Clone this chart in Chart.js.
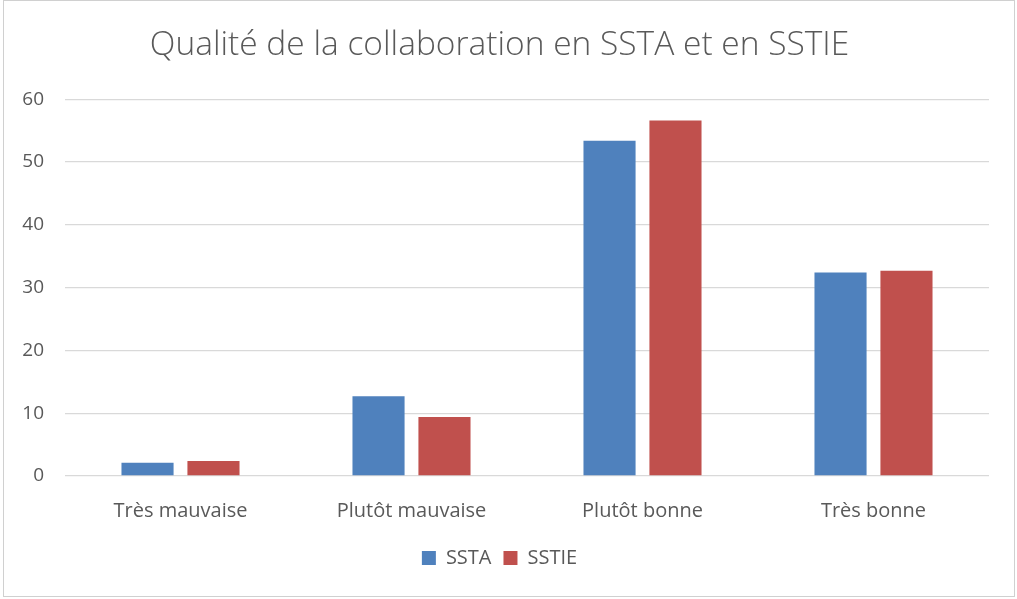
<!DOCTYPE html>
<html><head><meta charset="utf-8">
<script src="https://cdn.jsdelivr.net/npm/chart.js@4/dist/chart.umd.min.js"></script>
<style>html,body{margin:0;padding:0;background:#fff;}#wrap{width:1017px;height:599px;position:relative;}</style>
</head><body><div id="wrap"><canvas id="c" width="1017" height="599"></canvas></div>
<script>
const categories = ["Très mauvaise", "Plutôt mauvaise", "Plutôt bonne", "Très bonne"];
const ssta = [2.1, 12.7, 53.4, 32.4];
const sstie = [2.4, 9.4, 56.6, 32.7];
const seriesNames = ["SSTA", "SSTIE"];
const yTicks = [0, 10, 20, 30, 40, 50, 60];

const txt = '#595959';
const borderPlugin = {
  id: 'frame',
  beforeDraw(chart) {
    const ctx = chart.ctx;
    ctx.save();
    ctx.fillStyle = '#fff';
    ctx.fillRect(0, 0, chart.width, chart.height);
    ctx.strokeStyle = '#d0d0d0';
    ctx.lineWidth = 1;
    ctx.strokeRect(3.5, 0.5, 1011, 596);
    ctx.restore();
  }
};

new Chart(document.getElementById('c'), {
  type: 'bar',
  data: {
    labels: categories,
    datasets: [
      { label: seriesNames[0], data: ssta, backgroundColor: '#4f81bd', borderColor: '#4f81bd', borderWidth: 0 },
      { label: seriesNames[1], data: sstie, backgroundColor: '#c0504d', borderColor: '#c0504d', borderWidth: 0 }
    ]
  },
  plugins: [borderPlugin],
  options: {
    responsive: false,
    animation: false,
    devicePixelRatio: 1,
    datasets: { bar: { categoryPercentage: 0.571, barPercentage: 0.79 } },
    layout: { padding: { left: 10, right: 28, top: 25, bottom: 21 } },
    plugins: {
      title: {
        display: true,
        text: 'Qualité de la collaboration en SSTA et en SSTIE',
        color: txt,
        font: { family: 'Open Sans', size: 33.5, weight: '300' },
        padding: { top: 0, bottom: 34 }
      },
      legend: {
        position: 'bottom',
        labels: { color: txt, font: { family: 'Open Sans', size: 20 }, boxWidth: 14, boxHeight: 14, padding: 12 }
      },
      tooltip: { enabled: false }
    },
    scales: {
      x: {
        grid: { display: false },
        border: { display: false },
        ticks: { color: txt, font: { family: 'Open Sans', size: 20 }, padding: 15 },
        afterFit(s) { s.height = 60; }
      },
      y: {
        min: 0, max: 60,
        afterBuildTicks(s) { s.ticks = yTicks.map(v => ({ value: v })); },
        grid: { color: '#d9d9d9', lineWidth: 1.3, drawTicks: false },
        border: { display: false },
        ticks: { color: txt, font: { family: 'Open Sans', size: 19 }, padding: 21 },
        afterFit(s) { s.width = 55; }
      }
    }
  }
});
</script></body></html>
